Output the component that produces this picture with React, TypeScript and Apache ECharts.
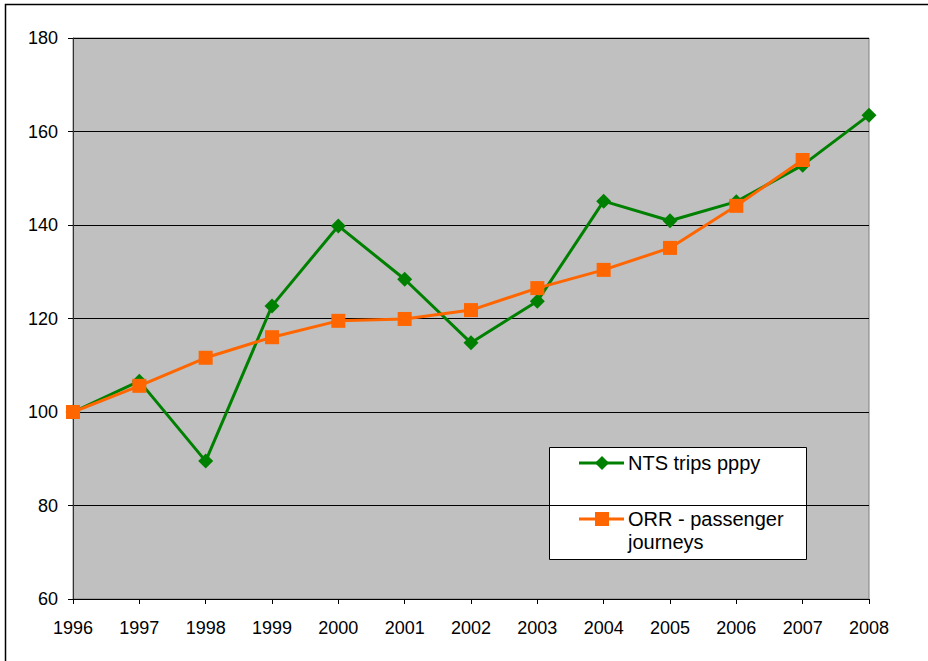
import React, { useEffect, useRef } from "react";
import * as echarts from "echarts";

const years = ["1996", "1997", "1998", "1999", "2000", "2001", "2002", "2003", "2004", "2005", "2006", "2007", "2008"];
const ntsTrips = [100, 106.6, 89.5, 122.7, 139.8, 128.4, 114.8, 123.7, 145.1, 140.9, 145, 152.8, 163.5];
const orrJourneys = [100, 105.6, 111.6, 116, 119.5, 119.9, 121.8, 126.5, 130.4, 135.1, 144.1, 153.9, null];
const ntsName = "NTS trips pppy";
const orrName = "ORR - passenger journeys";

const GREEN = "#008000";
const ORANGE = "#FF6600";
const FONT = "'Liberation Sans', Arial, sans-serif";

export default function App() {
  const ref = useRef<HTMLDivElement>(null);
  useEffect(() => {
    if (!ref.current) return;
    const chart = echarts.init(ref.current, null, { renderer: "svg" });
    const legendX = 549;
    const legendY = 447;
    chart.setOption({
      animation: false,
      backgroundColor: "#ffffff",
      grid: { left: 73, right: 59, top: 38, bottom: 62, show: true, backgroundColor: "#C0C0C0", borderColor: "#808080", borderWidth: 1 },
      xAxis: {
        type: "category",
        data: years,
        boundaryGap: false,
        axisLine: { lineStyle: { color: "#000000", width: 1 } },
        axisTick: { show: true, alignWithLabel: true, length: 5, lineStyle: { color: "#000" } },
        axisLabel: { color: "#000", fontFamily: FONT, fontSize: 18, margin: 20 },
        splitLine: { show: false },
      },
      yAxis: {
        type: "value",
        min: 60,
        max: 180,
        interval: 20,
        axisLine: { show: true, lineStyle: { color: "#333333", width: 1 } },
        axisTick: { show: true, length: 5, lineStyle: { color: "#000" } },
        axisLabel: { color: "#000", fontFamily: FONT, fontSize: 18, margin: 15 },
        splitLine: { show: true, lineStyle: { color: "#000000", width: 1 } },
      },
      series: [
        {
          name: ntsName,
          type: "line",
          data: ntsTrips,
          symbol: "diamond",
          symbolSize: 15,
          lineStyle: { color: GREEN, width: 3 },
          itemStyle: { color: GREEN },
          z: 2,
        },
        {
          name: orrName,
          type: "line",
          data: orrJourneys,
          symbol: "rect",
          symbolSize: 14,
          lineStyle: { color: ORANGE, width: 3 },
          itemStyle: { color: ORANGE },
          z: 3,
        },
      ],
      graphic: [
        {
          type: "rect",
          shape: { x: 5.5, y: 4.5, width: 940, height: 680 },
          style: { fill: "none", stroke: "#000", lineWidth: 1.5 },
          silent: true,
        },
        {
          type: "group",
          x: legendX,
          y: legendY,
          children: [
            { type: "rect", shape: { x: 0.5, y: 0.5, width: 257, height: 112 }, style: { fill: "#fff", stroke: "#000", lineWidth: 1 } },
            { type: "line", shape: { x1: 30, y1: 16, x2: 75, y2: 16 }, style: { stroke: GREEN, lineWidth: 3 } },
            { type: "polygon", shape: { points: [[53, 9], [60, 16], [53, 23], [46, 16]] }, style: { fill: GREEN } },
            { type: "text", x: 79, y: 16, style: { text: ntsName, fontFamily: FONT, fontSize: 20, fill: "#000", verticalAlign: "middle" } },
            { type: "line", shape: { x1: 30, y1: 72, x2: 75, y2: 72 }, style: { stroke: ORANGE, lineWidth: 3 } },
            { type: "rect", shape: { x: 46, y: 65, width: 14, height: 14 }, style: { fill: ORANGE } },
            { type: "text", x: 79, y: 72, style: { text: "ORR - passenger", fontFamily: FONT, fontSize: 20, fill: "#000", verticalAlign: "middle" } },
            { type: "text", x: 79, y: 95, style: { text: "journeys", fontFamily: FONT, fontSize: 20, fill: "#000", verticalAlign: "middle" } },
          ],
        },
      ],
    });
    return () => chart.dispose();
  }, []);
  return <div ref={ref} style={{ position: "fixed", left: 0, top: 0, width: 928, height: 661 }} />;
}
